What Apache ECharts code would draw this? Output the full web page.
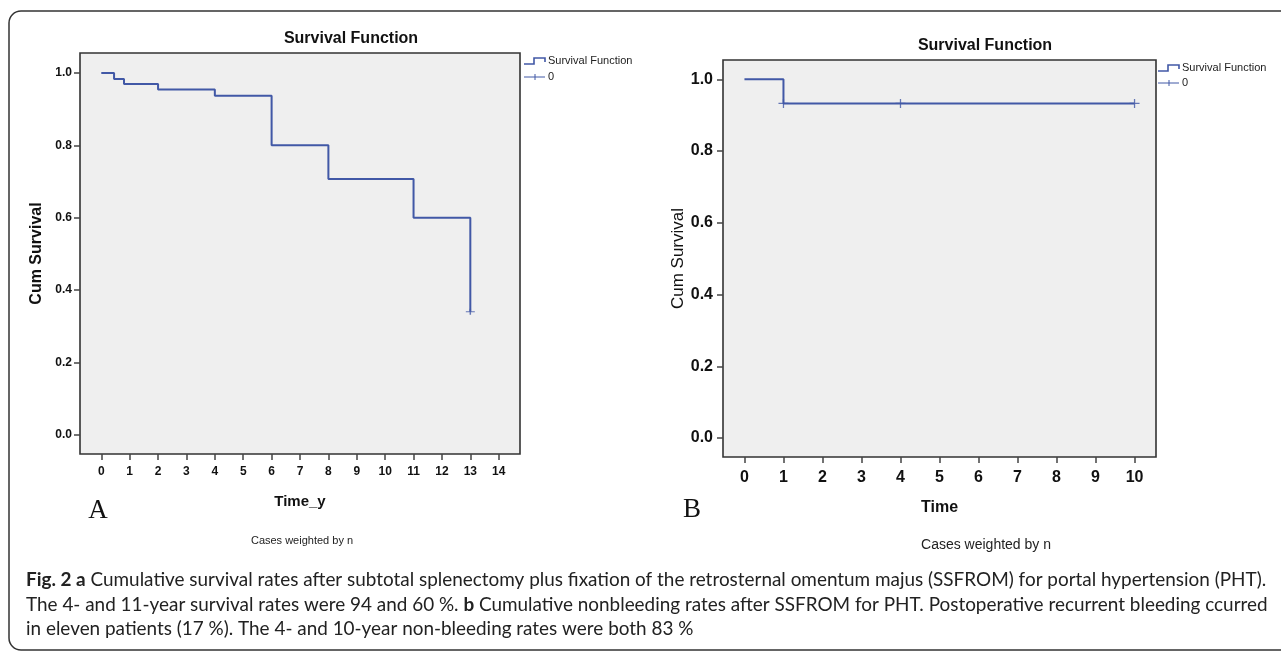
<!DOCTYPE html>
<html>
<head>
<meta charset="utf-8">
<script src="https://cdn.jsdelivr.net/npm/echarts@6/dist/echarts.min.js"></script>
<style>
  html, body { margin: 0; padding: 0; background: #fff; }
  #main { width: 1281px; height: 652px; }
</style>
</head>
<body>
<div id="main"></div>
<script>
// panel A: overall survival (years)
var timeA = [0, 0.45, 0.8, 2, 4, 6, 8, 11, 13];
var survA = [1.0, 0.983, 0.969, 0.954, 0.937, 0.80, 0.707, 0.60, 0.34];
var censorTimeA = [13];
var censorSurvA = [0.34];
var xTicksA = [0, 1, 2, 3, 4, 5, 6, 7, 8, 9, 10, 11, 12, 13, 14];

// panel B: non-bleeding
var timeB = [0, 1, 10];
var survB = [1.0, 0.933, 0.933];
var censorTimeB = [1, 4, 10];
var censorSurvB = [0.933, 0.933, 0.933];
var xTicksB = [0, 1, 2, 3, 4, 5, 6, 7, 8, 9, 10];

var yTicks = [0, 0.2, 0.4, 0.6, 0.8, 1.0];

var caption = [
  ['Fig. 2 a', ' Cumulative survival rates after subtotal splenectomy plus fixation of the retrosternal omentum majus (SSFROM) for portal hypertension (PHT).'],
  ['', 'The 4- and 11-year survival rates were 94 and 60 %. ', 'b', ' Cumulative nonbleeding rates after SSFROM for PHT. Postoperative recurrent bleeding ccurred'],
  ['', 'in eleven patients (17 %). The 4- and 10-year non-bleeding rates were both 83 %']
];

var BLUE = '#4158a6';
var INK = '#222';
var FONT = '"Liberation Sans", Arial, sans-serif';
var CAP_FONT = 'Lato, "Liberation Sans", sans-serif';

function pairs(xs, ys) {
  return xs.map(function (x, i) { return [x, ys[i]]; });
}

// fit caption font so the first line spans roughly the same width as the figure
var ctx = document.createElement('canvas').getContext('2d');
function lineWidth(parts, fs) {
  var w = 0;
  parts.forEach(function (p, i) {
    ctx.font = (i % 2 === 0 ? 'bold ' : '') + fs + 'px ' + CAP_FONT;
    w += ctx.measureText(p).width;
  });
  return w;
}
var capSize = 18 * 1241 / lineWidth(caption[0], 18);

function legendBlock(x, y, gap) {
  return [
    { type: 'polyline', shape: { points: [[x, y + 3], [x + 10, y + 3], [x + 10, y - 3], [x + 21, y - 3], [x + 21, y + 1]] },
      style: { stroke: BLUE, lineWidth: 1.6, fill: null } },
    { type: 'text', x: x + 24, y: y, style: { text: 'Survival Function', font: '11px ' + FONT, fill: INK, verticalAlign: 'middle' } },
    { type: 'line', shape: { x1: x, y1: y + gap, x2: x + 21, y2: y + gap }, style: { stroke: BLUE, lineWidth: 1 } },
    { type: 'line', shape: { x1: x + 11, y1: y + gap - 3, x2: x + 11, y2: y + gap + 3 }, style: { stroke: BLUE, lineWidth: 1 } },
    { type: 'text', x: x + 24, y: y + gap, style: { text: '0', font: '11px ' + FONT, fill: INK, verticalAlign: 'middle' } }
  ];
}

function richLine(parts) {
  var t = '';
  parts.forEach(function (p, i) {
    if (!p) return;
    t += (i % 2 === 0 ? '{b|' + p + '}' : '{n|' + p.replace(/[{}|]/g, '') + '}');
  });
  return t;
}

var graphics = [
  { type: 'rect', shape: { x: 9, y: 11, width: 1290, height: 639, r: 12 },
    style: { fill: null, stroke: '#333', lineWidth: 1.5 } },
  { type: 'text', x: 351, y: 39, style: { text: 'Survival Function', font: 'bold 16px ' + FONT, fill: '#111', align: 'center', verticalAlign: 'middle' } },
  { type: 'text', x: 985, y: 46, style: { text: 'Survival Function', font: 'bold 16px ' + FONT, fill: '#111', align: 'center', verticalAlign: 'middle' } },
  { type: 'text', x: 302, y: 541, style: { text: 'Cases weighted by n', font: '11px ' + FONT, fill: INK, align: 'center', verticalAlign: 'middle' } },
  { type: 'text', x: 986, y: 545, style: { text: 'Cases weighted by n', font: '14px ' + FONT, fill: INK, align: 'center', verticalAlign: 'middle' } },
  { type: 'text', x: 98, y: 511, style: { text: 'A', font: '27px "Liberation Serif", "DejaVu Serif", serif', fill: '#111', align: 'center', verticalAlign: 'middle' } },
  { type: 'text', x: 692, y: 510, style: { text: 'B', font: '27px "Liberation Serif", "DejaVu Serif", serif', fill: '#111', align: 'center', verticalAlign: 'middle' } }
].concat(legendBlock(524, 61, 16), legendBlock(1158, 68, 15));

caption.forEach(function (parts, i) {
  graphics.push({
    type: 'text', x: 26, y: 580 + i * 24.7,
    style: {
      text: richLine(parts),
      verticalAlign: 'middle',
      rich: {
        b: { fontWeight: 'bold', fontSize: capSize, fontFamily: CAP_FONT, fill: INK },
        n: { fontWeight: 'normal', fontSize: capSize, fontFamily: CAP_FONT, fill: INK }
      }
    }
  });
});

function xAxisCfg(idx, min, max, ticks, name, fs, margin, nameFs, nameGap) {
  return {
    type: 'value', gridIndex: idx, min: min, max: max,
    name: name, nameLocation: 'middle', nameGap: nameGap,
    nameTextStyle: { fontFamily: FONT, fontWeight: 'bold', fontSize: nameFs, color: '#111' },
    axisLine: { show: false, onZero: false },
    axisTick: { show: true, length: 6, lineStyle: { color: '#444', width: 1.5 }, customValues: ticks },
    axisLabel: { fontFamily: FONT, fontWeight: 'bold', fontSize: fs, color: '#111', margin: margin, customValues: ticks },
    splitLine: { show: false }
  };
}
function yAxisCfg(idx, min, max, fs, margin, nameWeight, nameFs, nameGap) {
  return {
    type: 'value', gridIndex: idx, min: min, max: max,
    name: 'Cum Survival', nameLocation: 'middle', nameGap: nameGap,
    nameTextStyle: { fontFamily: FONT, fontWeight: nameWeight, fontSize: nameFs, color: '#111' },
    axisLine: { show: false, onZero: false },
    axisTick: { show: true, length: 6, lineStyle: { color: '#444', width: 1.5 }, customValues: yTicks },
    axisLabel: { fontFamily: FONT, fontWeight: 'bold', fontSize: fs, color: '#111', margin: margin,
      customValues: yTicks, formatter: function (v) { return v.toFixed(1); } },
    splitLine: { show: false }
  };
}

var censorSymbol = 'path://M0,4 L8,4 M4,0 L4,8';

var chart = echarts.init(document.getElementById('main'), null, { renderer: 'canvas' });
chart.setOption({
  animation: false,
  backgroundColor: '#fff',
  grid: [
    { left: 80, top: 53, width: 440, height: 401, show: true, backgroundColor: '#efefef',
      borderColor: '#333', borderWidth: 1.6, containLabel: false, outerBoundsMode: 'none' },
    { left: 723, top: 60, width: 433, height: 397, show: true, backgroundColor: '#efefef',
      borderColor: '#333', borderWidth: 1.6, containLabel: false, outerBoundsMode: 'none' }
  ],
  xAxis: [
    xAxisCfg(0, -0.75, 14.75, xTicksA, 'Time_y', 12, 12, 15, 40),
    xAxisCfg(1, -0.55, 10.55, xTicksB, 'Time', 16, 13, 16, 43)
  ],
  yAxis: [
    yAxisCfg(0, -0.053, 1.055, 12, 8, 'bold', 16, 35),
    yAxisCfg(1, -0.053, 1.054, 16, 10, 'normal', 17, 19)
  ],
  graphic: graphics,
  series: [
    { name: 'Survival Function', type: 'line', xAxisIndex: 0, yAxisIndex: 0, step: 'end',
      data: pairs(timeA, survA), showSymbol: false, lineStyle: { color: BLUE, width: 2 } },
    { name: '0', type: 'scatter', xAxisIndex: 0, yAxisIndex: 0, data: pairs(censorTimeA, censorSurvA),
      symbol: censorSymbol, symbolSize: [9, 6], itemStyle: { color: 'rgba(0,0,0,0)', borderColor: BLUE, borderWidth: 1.2 } },
    { name: 'Survival Function', type: 'line', xAxisIndex: 1, yAxisIndex: 1, step: 'end',
      data: pairs(timeB, survB), showSymbol: false, lineStyle: { color: BLUE, width: 2 } },
    { name: '0', type: 'scatter', xAxisIndex: 1, yAxisIndex: 1, data: pairs(censorTimeB, censorSurvB),
      symbol: censorSymbol, symbolSize: [10, 9], itemStyle: { color: 'rgba(0,0,0,0)', borderColor: BLUE, borderWidth: 1.2 } }
  ]
});
</script>
</body>
</html>
